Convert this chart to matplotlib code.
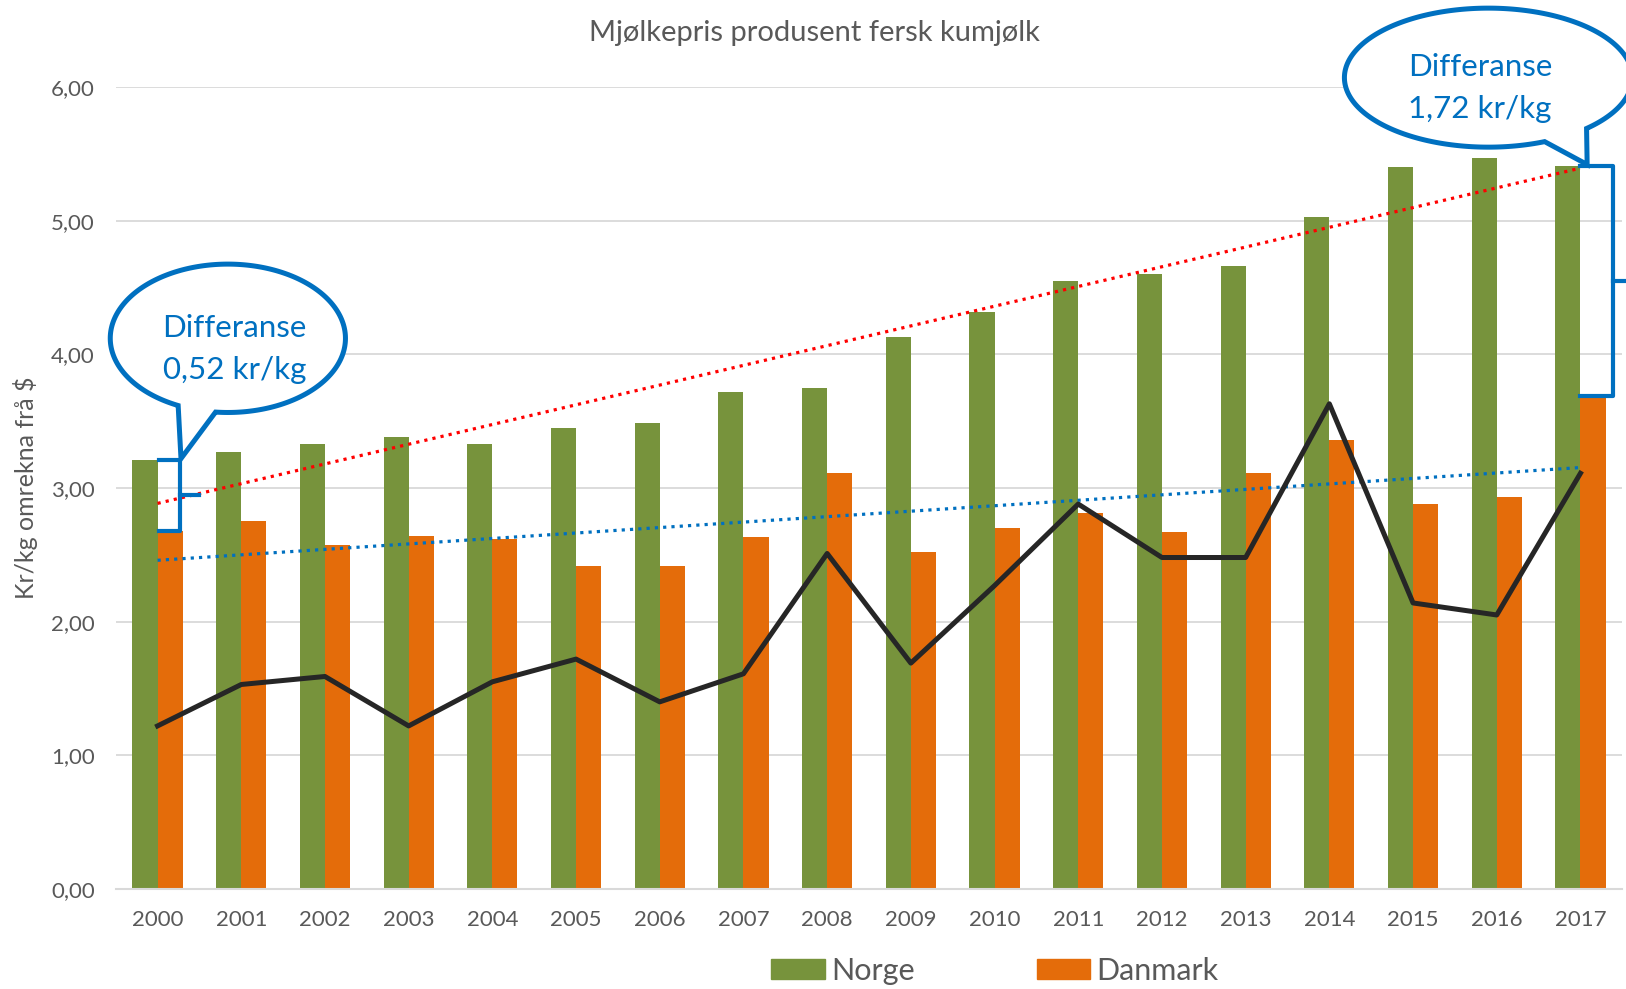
import numpy as np
import matplotlib
matplotlib.use("Agg")
import matplotlib.pyplot as plt
from matplotlib.patches import Polygon, Patch

# data (kr/kg)
years = [str(y) for y in range(2000, 2018)]
norge = [3.21, 3.27, 3.33, 3.38, 3.33, 3.45, 3.49, 3.72, 3.75,
         4.13, 4.32, 4.55, 4.60, 4.66, 5.03, 5.40, 5.47, 5.41]
danmark = [2.68, 2.75, 2.57, 2.64, 2.62, 2.42, 2.42, 2.63, 3.11,
           2.52, 2.70, 2.81, 2.67, 3.11, 3.36, 2.88, 2.93, 3.69]
svart_linje = [1.22, 1.53, 1.59, 1.22, 1.55, 1.72, 1.40, 1.61, 2.51,
               1.69, 2.27, 2.88, 2.48, 2.48, 3.63, 2.14, 2.05, 3.11]
yticks = [0, 1, 2, 3, 4, 5, 6]

GREEN = "#77933C"
ORANGE = "#E46C0A"
BLUE = "#0070C0"
GREY = "#595959"

plt.rcParams["font.family"] = ["Lato", "DejaVu Sans"]

fig = plt.figure(figsize=(16.26, 9.89), dpi=100)
ax = fig.add_axes([115.7 / 1626, 100 / 989, 1506.6 / 1626, 802 / 989])

x = np.arange(len(years))
w = 0.3
ax.bar(x - w / 2, norge, w, color=GREEN, zorder=2)
ax.bar(x + w / 2, danmark, w, color=ORANGE, zorder=2)

# linear trend lines
for vals, col in [(norge, "#FF0000"), (danmark, BLUE)]:
    k, m = np.polyfit(x, vals, 1)
    ax.plot(x, k * x + m, color=col, lw=2.3, ls=(0, (1, 1.6)), zorder=3)

ax.plot(x, svart_linje, color="#262626", lw=3.6, zorder=4)

ax.set_xlim(-0.5, 17.5)
ax.set_ylim(0, 6)
ax.set_xticks(x)
ax.set_xticklabels(years)
ax.set_yticks(yticks)
ax.set_yticklabels([f"{v:.2f}".replace(".", ",") for v in yticks])
ax.tick_params(length=0, pad=15, labelsize=16, colors=GREY)
ax.yaxis.grid(True, color="#D9D9D9", lw=1.3, zorder=0)
ax.set_axisbelow(True)
for s in ["left", "right", "top"]:
    ax.spines[s].set_visible(False)
ax.spines["bottom"].set_color("#D9D9D9")
ax.spines["bottom"].set_linewidth(1.5)


def callout(cx, cy, a, b, t1, t2, tip, lines, tx, ty):
    t = np.radians(np.linspace(t2, t1 + 360, 300))
    pts = np.column_stack([cx + a * np.cos(t), cy + b * np.sin(t)])
    pts = np.vstack([pts, tip])
    ax.add_patch(Polygon(pts, closed=True, fc="white", ec=BLUE, lw=3.6,
                         joinstyle="miter", clip_on=False, zorder=6))
    ax.text(tx, ty, lines, ha="center", va="center", color=BLUE,
            fontsize=22.5, linespacing=1.6, zorder=7)


def bracket(x0, x1, top, bot, tick_end):
    ax.plot([x0, x1, x1, x0], [top, top, bot, bot], color=BLUE, lw=3,
            solid_joinstyle="round", clip_on=False, zorder=6)
    mid = (top + bot) / 2
    ax.plot([x1, tick_end], [mid, mid], color=BLUE, lw=3, clip_on=False, zorder=6)


bracket(0.02, 0.27, norge[0], danmark[0], 0.5)
bracket(17.0, 17.39, norge[-1], danmark[-1], 17.8)

callout(0.84, 4.12, 1.405, 0.555, -115, -96, (0.28, 3.22),
        "Differanse\n0,52 kr/kg", 0.92, 4.04)
callout(15.90, 6.07, 1.72, 0.52, -67, -47, (17.08, 5.42),
        "Differanse\n1,72 kr/kg", 15.80, 5.99)

fig.text(814 / 1626, 1 - 33 / 989, "Mjølkepris produsent fersk kumjølk",
         ha="center", va="center", fontsize=21, color=GREY)
fig.text(26 / 1626, 1 - 488 / 989, "Kr/kg omrekna frå $", rotation=90,
         ha="center", va="center", fontsize=18, color=GREY)

handles = [Patch(color=GREEN, label="Norge"), Patch(color=ORANGE, label="Danmark")]
fig.legend(handles=handles, loc="center", bbox_to_anchor=(995 / 1626, 18 / 989),
           ncol=2, frameon=False, fontsize=22, handlelength=1.75, handleheight=0.65,
           handletextpad=0.2, columnspacing=4.0, labelcolor=GREY)

fig.savefig("out.png", dpi=100)
